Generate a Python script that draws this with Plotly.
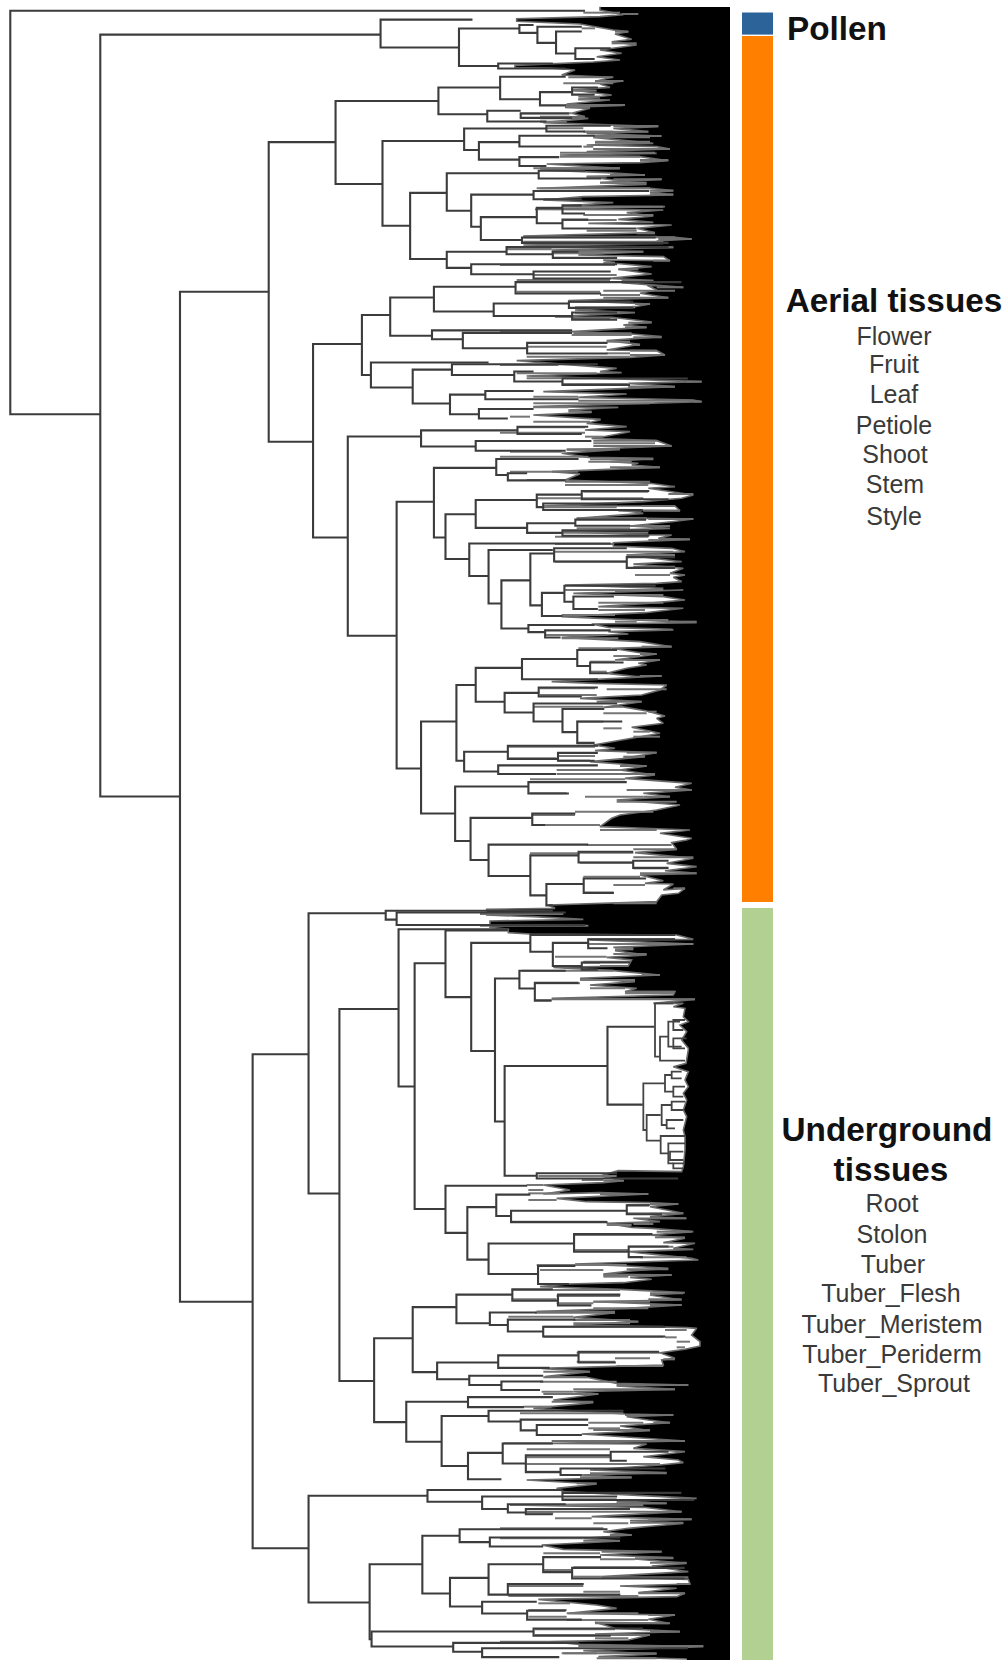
import plotly.graph_objects as go

# Dendrogram nodes: (height, upper leaf pos, lower leaf pos, upper branch end, lower branch end)
root_nodes = [(16,30,1160,910,156),(156,97,2230,592,280),(280,817,3645,418,393)]
pollen_nodes = [(592,55,133,735,714),(714,80,185,808,775),(808,70,92,830,836),(836,75,120,905,865),
    (865,88,150,905,895),(895,135,165,950,925),(775,178,192,860,880)]
aerial_a = [(418,398,1237,522,487),(522,283,515,682,595),(682,245,320,778,758),(778,215,278,880,840),
    (840,258,295,890,880),(890,245,265,930,925),(758,310,340,810,850),(810,318,330,885,890),
    (595,395,632,722,638),(722,360,420,850,745),(850,352,368,950,910),(745,398,447,808,808),
    (808,380,410,925,905),(808,440,465,870,850),(638,540,725,695,695),(695,485,590,838,733),
    (838,478,500,910,935),(733,545,635,830,748),(830,535,558,1010,905),(748,608,672,835,812),
    (835,582,625,875,875),(875,575,598,905,910),(875,615,640,915,990),(812,665,680,1020,1040),
    (695,705,750,788,733),(788,692,712,1040,860),(860,705,722,900,960),(733,740,768,960,830),
    (830,760,780,950,950)]
aerial_b = [(487,963,1505,563,541),(563,882,1050,607,577),(607,833,940,675,672),(675,803,872,802,768),
    (802,790,822,1060,935),(768,850,885,885,890),(885,845,862,985,985),(890,875,895,960,960),
    (672,925,950,890,720),(720,932,975,890,820),(820,960,990,945,945),(577,1015,1085,760,642),
    (642,1035,1130,703,700),(703,1020,1050,930,800),(800,1040,1068,830,875),(875,1060,1078,1070,980),
    (700,1105,1160,755,745),(755,1095,1118,830,900),(745,1145,1172,830,790)]
aerial_c = [(541,1222,1780,655,617),(655,1205,1250,805,740),(805,1195,1215,915,905),(740,1235,1262,920,880),
    (617,1405,2152,675,655),(675,1310,1505,772,693),(772,1285,1330,900,790),(790,1325,1345,820,880),
    (693,1440,1565,740,730),(740,1400,1478,835,820),(835,1385,1420,905,845),(905,1375,1398,1010,1040),
    (845,1410,1428,960,1000),(820,1465,1492,895,875),(895,1455,1472,1005,980),(875,1485,1500,1010,1010),
    (730,1522,1613,950,760),(760,1540,1690,860,780),(780,1625,1760,825,822),(825,1550,1695,862,843),
    (862,1535,1572,975,975),(975,1560,1590,1050,1050),(843,1660,1725,878,875),(878,1640,1685,1020,892),
    (892,1670,1705,955,930),(822,1750,1770,925,848),(848,1765,1785,950,872)]
aerial_d = [(655,2020,2278,710,708),(710,1918,2130,740,722),(740,1870,1965,812,785),(812,1845,1902,898,930),
    (898,1820,1865,960,918),(918,1855,1885,970,945),(785,1940,1995,838,830),(838,1925,1950,930,905),
    (830,1970,2020,960,875),(875,1985,2050,940,898),(898,2020,2080,968,925),(722,2105,2160,790,775),
    (790,2088,2125,930,868),(868,2108,2130,930,925),(775,2143,2167,930,865),(708,2202,2355,822,732),
    (822,2190,2222,975,885),(732,2290,2408,828,760),(828,2278,2310,895,848),(760,2365,2453,915,825),
    (825,2395,2507,900,850),(900,2385,2415,985,985),(985,2410,2430,1040,1040),(850,2475,2535,908,860),
    (908,2460,2500,1005,955)]
under_a = [(393,2952,4335,480,480),(480,2557,3342,600,528),(600,2550,2575,860,617),(617,2555,2590,880,910),
    (528,2825,3867,620,582),(620,2602,3042,790,645),(645,2697,3385,693,693),(693,2605,2792,790,733),
    (733,2640,2943,825,770),(825,2618,2665,1050,860),(860,2640,2705,915,905),(915,2630,2655,1050,945),
    (905,2695,2715,980,930),(770,2740,3140,808,785),(785,2985,3292,945,835),(808,2718,2768,880,832),
    (832,2752,2802,900,858),(945,2875,3093,1018,1000),(835,3285,3300,960,1055)]
under_b = [(693,3320,3452,820,727),(727,3380,3527,772,760),(772,3345,3405,825,795),(795,3390,3422,975,945),
    (975,3375,3400,1010,1030),(760,3482,3567,893,837),(893,3455,3505,1015,978),(978,3490,3520,1040,1000),
    (837,3545,3595,895,885),(582,3747,3982,642,632),(642,3660,3842,710,680),(710,3625,3705,797,762),
    (797,3610,3642,860,868),(868,3625,3655,965,920),(762,3675,3710,835,790),(790,3695,3728,895,845),
    (845,3715,3742,1035,1035),(680,3815,3862,775,730),(775,3795,3830,900,855),(900,3785,3815,1025,958),
    (730,3852,3878,845,780),(780,3868,3892,845,840),(632,3925,4037,728,687),(728,3912,3940,860,815),
    (687,3965,4105,760,728),(760,3950,3980,970,810),(810,3975,4005,915,835),(835,3990,4018,915,905),
    (728,4068,4142,782,780),(782,4042,4098,860,818),(818,4075,4122,950,872),(950,4065,4090,1040,975),
    (872,4112,4130,1035,905)]
under_c = [(480,4188,4487,665,575),(665,4172,4205,875,750),(750,4190,4225,960,790),(790,4212,4235,880,818),
    (818,4225,4240,980,860),(875,4180,4200,1060,1080),(575,4380,4590,657,578),(657,4300,4462,715,700),
    (715,4282,4318,945,762),(762,4305,4330,965,845),(700,4418,4498,760,750),(760,4380,4465,845,790),
    (845,4360,4402,935,890),(890,4390,4420,1065,1065),(790,4435,4465,908,965),(750,4485,4518,835,820),
    (820,4510,4535,880,905),(578,4568,4610,830,705),(830,4560,4580,1000,950),(705,4600,4625,900,750),
    (750,4615,4640,1070,870)]
# Tuber clade, read from a closer view
tuber_fine = [(465,-140,20,520,480),(480,-40,32,505,555),(505,-85,-10,540,545),(520,-90,-60,555,550),
    (520,-35,-5,560,555),(430,100,240,495,440),(495,75,125,515,520),(515,65,85,545,545),(520,110,140,555,550),
    (440,195,272,482,482),(485,165,225,515,500),(515,155,180,555,550),(500,210,235,550,525),
    (482,258,310,555,505),(505,280,340,555,520),(510,305,330,550,550),(520,340,355,555,550)]

# Left edge of the dense leaf block (depth, leaf position), one array per stretch
fringe_a = [(300,20),(300,30),(370,44),(300,50),(50,56),(50,64),(240,72),(340,90),(385,95),(345,102),(395,118),
    (335,125),(410,135),(300,150),(365,160),(290,170),(360,180),(280,186),(45,196),(45,203),(150,204),(225,210),
    (185,225),(335,232),(290,243),(370,243),(300,252),(330,262),(215,270),(335,285),(235,298),(330,300),(200,312),
    (370,316),(195,322),(270,325),(215,340),(255,350),(120,352),(265,355),(130,368),(340,376),(475,380),(340,385),
    (445,395),(260,400),(480,408),(280,412),(460,430),(260,435),(470,440),(510,447),(260,455),(470,460),(180,465),
    (420,470),(505,482),(420,488),(140,492),(360,505),(120,510),(320,518),(435,525),(260,530),(340,540),(485,538),
    (300,548),(440,553),(120,565),(450,565),(520,572),(450,578),(520,585),(250,590),(130,600),(340,608),(190,618),
    (495,620),(105,628)]
fringe_b = [(490,0),(380,8),(460,18),(355,28),(460,37),(265,40),(515,45),(410,55),(465,68),(70,78),(525,82),
    (575,87),(470,93),(490,100),(70,105),(520,112),(155,120),(430,125),(235,135),(490,140),(510,152),(310,150),
    (345,160),(455,170),(355,178),(455,192),(330,205),(460,212),(365,218),(550,232),(440,225),(470,240),(420,250),
    (505,263),(205,272),(450,282),(405,290),(225,300),(405,308),(165,320),(335,322),(455,336),(370,345),(440,352),
    (215,365),(395,372),(485,380),(320,392),(420,403),(320,420),(470,422),(495,435),(390,442),(50,452),(175,462),
    (290,470),(350,475),(300,485),(365,488),(80,498),(605,515),(385,520),(525,530),(130,545),(380,552),(235,562),
    (580,570),(605,575),(450,580),(100,590),(355,592),(205,600),(275,607),(100,615),(300,628)]
fringe_c = [(300,0),(260,10),(380,20),(255,30),(390,35),(310,50),(275,55),(470,62),(515,78),(200,90),(360,88),
    (185,100),(265,112),(460,115),(330,125),(415,130),(395,135),(480,142),(240,150),(155,155),(240,162),(195,180),
    (450,190),(525,200),(445,205),(580,225),(545,235),(430,245),(130,258),(525,258),(540,272),(355,270),(430,280),
    (230,295),(440,295),(580,297),(515,305),(390,318),(510,325),(190,335),(445,345),(515,345),(475,355),(570,358),
    (340,368),(340,378),(515,385),(555,395),(380,405),(545,425),(400,432),(550,445),(510,460),(555,465),(520,472),
    (545,485),(470,490),(195,495),(490,505),(345,515),(550,510),(220,520),(490,530),(555,540),(440,550),(295,560),
    (550,565),(490,572),(435,578),(185,590),(345,598),(505,605),(590,608),(275,612),(325,622),(515,628)]
fringe_d = [(520,0),(325,5),(385,12),(185,22),(420,35),(515,50),(335,55),(420,68),(470,72),(345,90),(480,90),
    (415,100),(440,105),(380,115),(320,130),(410,140),(485,138),(155,155),(285,160),(500,165),(480,180),(425,195),
    (240,205),(425,215),(310,232),(365,230),(440,243),(495,258),(470,265),(490,280),(395,292),(480,310),(410,322),
    (280,345),(345,355),(285,362),(470,368),(370,385),(435,380),(270,395),(440,408),(360,420),(465,435),(375,445),
    (575,460),(525,472),(575,480),(430,490),(510,500),(350,510),(540,525),(470,540),(360,555),(335,565),(300,590),
    (570,600),(480,610),(575,625)]
fringe_e = [(560,0),(515,8),(530,28),(405,38),(580,55),(500,70),(590,80),(495,92),(590,100),(420,105),(490,122),
    (435,130),(520,132),(490,150),(555,145),(535,160),(485,165),(470,185),(145,195),(165,205),(-40,208),(-40,225),
    (100,230),(250,238),(-30,243),(-30,262),(25,268),(25,278),(90,282),(530,285),(580,298),(270,300),(580,312),
    (340,322),(400,325),(345,332),(440,345),(320,352),(395,360),(385,378),(160,382),(340,392),(480,405),(420,408),
    (240,415),(405,425),(270,435),(410,445),(375,455),(525,455),(520,465),(155,475),(585,478),(460,490),(550,490),
    (520,500),(555,505),(550,530),(565,545),(540,555),(560,575),(545,600),(565,625)]
fringe_f = [(565,0),(558,40),(520,50),(565,65),(555,90),(565,110),(550,130),(560,150),(550,180),(560,200),
    (550,240),(555,260),(555,300),(550,350),(545,365),(355,362),(300,378),(370,392),(310,398),(130,405),(210,420),
    (130,432),(300,428),(445,432),(170,445),(260,455),(445,458),(535,462),(450,470),(550,490),(450,500),(560,505),
    (400,505),(480,515),(320,520),(395,532),(455,535),(580,545),(450,555),(555,565),(490,578),(585,580),(520,595),
    (580,598),(385,605),(575,625)]
fringe_g = [(595,0),(425,5),(225,12),(380,18),(505,25),(400,32),(310,42),(515,45),(390,52),(455,58),(370,68),
    (205,72),(120,80),(360,88),(555,98),(450,105),(545,120),(280,125),(545,135),(380,145),(110,155),(345,158),
    (220,172),(415,185),(220,195),(560,203),(590,205),(575,225),(600,245),(600,258),(555,268),(480,278),(525,295),
    (485,300),(490,315),(125,325),(270,335),(135,350),(260,352),(350,370),(565,375),(350,378),(525,388),(220,395),
    (295,402),(160,420),(280,428),(100,445),(375,462),(520,465),(380,470),(445,480),(510,488),(360,498),(450,512),
    (245,522),(555,543),(155,550),(440,552),(400,565),(555,575),(430,590),(535,600)]
fringe_h = [(550,8),(480,15),(270,30),(500,38),(240,45),(395,53),(80,60),(290,72),(170,85),(190,95),(590,115),
    (350,125),(500,130),(30,135),(430,142),(545,155),(275,170),(575,178),(390,182),(550,190),(460,198),(385,205),
    (310,215),(395,225),(250,235),(360,243),(125,255),(190,268),(485,275),(300,285),(520,293),(405,297),(560,310),
    (455,318),(565,335),(305,350),(565,358),(570,372),(360,378),(530,385),(415,398),(555,400),(530,410),(115,418),
    (290,435),(350,445),(205,460),(525,465),(445,478),(505,490),(285,487),(345,505),(540,515),(285,522),(450,525),
    (385,540),(150,545),(240,553),(610,560),(250,572),(470,582),(295,590),(560,597)]
fringe_start = [0, 210, 420, 630, 840, 1050, 1260, 1460]

# Visible leaf bars over the block: (leaf position, start, end)
tips_a = [(38,300,360),(42,365,415),(95,345,385),(130,335,410),(378,340,475),(395,255,445),(408,280,485),(428,285,450),
    (447,280,510),(458,180,465),(480,420,505),(505,120,360),(525,330,435),(538,340,485),(572,450,520),(232,205,340),
    (243,285,370),(290,235,300),(315,195,375),(355,120,210)]
tips_b = [(87,475,575),(82,70,525),(112,20,520),(125,155,430),(152,460,510),(178,355,415),(212,365,460),(232,470,550),
    (242,310,525),(263,310,505),(282,405,450),(325,215,330),(338,385,455),(352,375,440),(370,220,395),(382,400,485),
    (405,395,420),(422,390,470),(435,390,495),(515,560,605),(530,385,525),(572,235,580),(575,580,605)]
tips_c = [(62,280,470),(78,280,515),(88,200,360),(118,270,460),(142,330,480),(155,155,235),(185,195,450),(222,505,580),
    (258,425,525),(272,430,540),(297,445,580),(318,390,510),(358,475,570),(372,165,340),(605,510,590),(600,410,505)]
tips_d = [(50,425,515),(72,420,470),(90,380,480),(138,420,485),(178,320,500),(215,290,425),(245,445,470),(368,380,470),
    (380,370,435),(408,360,440),(432,170,465),(480,380,575),(500,430,510)]
tips_e = [(15,260,515),(28,400,530),(52,400,580),(100,420,590),(222,-60,190),(257,-60,265),(342,340,440),(328,345,400),
    (365,250,390),(378,300,385),(405,425,480),(455,375,525),(478,155,585),(145,520,555)]
tips_f = [(392,310,372),(432,300,445),(462,450,535),(490,450,550),(505,450,558),(522,400,460),(545,470,575),(562,465,555)]
tips_g = [(28,380,505),(45,310,515),(100,450,550),(118,445,545),(135,450,545),(155,110,345),(180,220,390),(185,390,415),
    (298,490,525),(335,130,270),(352,130,260),(375,350,565),(388,220,525),(402,130,295),(425,155,280),(465,375,520),
    (488,460,510),(510,280,450),(543,155,555)]
tips_h = [(40,270,500),(52,240,395),(70,230,290),(130,350,500),(155,80,545),(178,445,575),(188,390,550),(225,330,395),
    (242,250,360),(275,305,485),(295,405,520),(308,450,560),(352,305,565),(372,530,570),(400,415,555),(465,445,525),
    (490,285,510),(515,450,540),(525,285,450),(558,235,610),(580,190,470)]

# Grey leaf bands that slice the white wedges: (leaf position, start, end)
bands_a = [(38,250,300),(85,245,285),(385,140,250),(395,250,340),(412,280,450),(425,285,450),(440,250,280),(447,280,470),
    (470,180,420),(482,420,470),(505,100,360),(530,260,320),(548,300,440),(565,110,450),(583,450,520),(598,130,210),
    (620,190,490),(250,190,340),(272,215,290),(298,235,300),(320,195,270),(340,60,215),(350,120,210),(365,120,200)]
bands_b = [(15,250,460),(30,190,350),(62,260,410),(70,410,465),(80,70,470),(95,70,490),(118,20,155),(130,155,310),
    (158,310,345),(165,0,345),(195,100,350),(210,50,330),(245,50,300),(255,300,420),(275,205,390),(292,225,405),
    (308,225,360),(320,165,215),(365,0,215),(375,215,395),(395,320,390),(410,80,320),(430,320,390),(440,80,390),
    (465,0,175),(490,50,290),(505,80,185),(522,185,385),(530,385,455),(560,100,235),(580,100,450),(592,100,205),
    (605,205,275),(620,30,90)]
bands_c = [(5,100,270),(22,55,255),(38,0,255),(50,255,310),(70,280,465),(95,30,185),(110,0,265),(125,265,395),(155,30,155),
    (180,80,195),(195,195,445),(215,250,445),(235,110,430),(262,130,350),(272,355,425),(295,230,440),(325,230,390),
    (338,190,445),(350,165,445),(360,445,475),(395,165,520),(425,165,380),(405,380,525),(440,400,525),(465,405,510),
    (510,195,490),(525,345,490),(548,295,490),(570,295,435),(585,185,345),(605,345,410)]
bands_d = [(15,135,320),(25,185,355),(55,235,335),(78,340,420),(95,270,345),(125,270,320),(175,120,285),(195,120,290),
    (230,100,310),(250,310,440),(275,230,310),(295,310,365),(305,400,450),(320,400,480),(340,230,280),(350,25,285),
    (385,25,170),(378,175,285),(392,175,270),(420,170,360),(448,90,375),(490,90,200),(500,255,430),(515,350,530),
    (545,225,460),(555,95,225),(585,135,300),(600,300,470)]
bands_e = [(38,240,400),(68,240,400),(85,400,495),(110,250,420),(135,340,435),(158,250,340),(190,340,470),(40,90,240),
    (298,265,525),(312,265,580),(350,165,320),(368,250,300),(392,65,340),(420,240,405),(430,105,240),(445,270,375),
    (460,375,520),(480,105,155)]
bands_f = [(378,115,350),(390,245,310),(405,80,130),(420,85,130),(430,85,180),(450,85,170),(465,380,450),(490,380,450),
    (515,35,320),(525,320,395),(555,225,450),(600,225,385),(590,385,520),(622,420,560)]
bands_g = [(15,110,380),(30,120,310),(50,310,385),(72,120,205),(90,35,360),(118,35,170),(108,170,360),(130,170,280),
    (125,280,450),(145,280,445),(158,105,345),(170,25,220),(190,220,390),(200,130,490),(230,130,490),(210,495,560),
    (232,495,530),(245,530,570),(262,530,555),(278,230,480),(305,230,345),(295,345,450),(318,350,490),(365,120,350),
    (395,125,220),(440,70,155),(460,60,370),(488,265,430),(505,265,360),(525,110,245),(550,10,155),(568,80,330),(592,80,330)]
bands_h = [(12,80,480),(35,80,180),(45,180,240),(118,190,350),(135,30,430),(158,80,160),(175,165,275),(190,280,385),
    (205,0,310),(235,0,250),(280,130,300),(298,300,405),(330,130,215),(322,220,455),(350,220,305),(378,25,250),
    (395,250,360),(408,25,415),(430,115,210),(450,85,200),(470,85,200),(460,200,415),(480,200,445),(508,105,345),
    (525,105,285),(535,285,385),(545,0,150),(580,185,290),(595,290,470)]

strip_top = [12.5, 36, 908]
strip_bottom = [34.6, 902, 1660]
strip_colors = ["#2c6399", "#ff8000", "#b2d092"]

label_text = ["<b>Pollen</b>", "<b>Aerial tissues</b>", "Flower", "Fruit", "Leaf", "Petiole", "Shoot", "Stem", "Style",
              "<b>Underground</b>", "<b>tissues</b>", "Root", "Stolon", "Tuber", "Tuber_Flesh", "Tuber_Meristem",
              "Tuber_Periderm", "Tuber_Sprout"]
label_x = [837, 894, 894, 894, 894, 894, 895, 895, 894, 887, 891, 892, 892, 893, 891, 892, 892, 894]
label_y = [32, 304, 339, 367, 397, 428, 457, 487, 519, 1133, 1173, 1206, 1237, 1267, 1296, 1327, 1357, 1386]
label_size = [33.3, 33.3] + [25] * 7 + [33.3, 33.3] + [25] * 7
label_color = ["#111111", "#111111"] + ["#3a3a3a"] * 7 + ["#111111", "#111111"] + ["#3a3a3a"] * 7

BLOCK_RIGHT = 730
BLOCK_TOP = 7
PAGE_H = 1660

dx = []
dy = []
for group in [root_nodes, pollen_nodes, aerial_a, aerial_b, aerial_c, aerial_d, under_a, under_b, under_c]:
    for h, top, bot, e_top, e_bot in group:
        dx.extend([e_top / 1.5556, h / 1.5556, h / 1.5556, e_bot / 1.5556, None])
        dy.extend([top / 2.8, top / 2.8, bot / 2.8, bot / 2.8, None])

fine_x = []
fine_y = []
for h, top, bot, e_top, e_bot in tuber_fine:
    fine_x.extend([500 + e_top / 3, 500 + h / 3, 500 + h / 3, 500 + e_bot / 3, None])
    fine_y.extend([1050 + top / 3, 1050 + top / 3, 1050 + bot / 3, 1050 + bot / 3, None])

edge_x = []
edge_y = []
for start, part in zip(fringe_start, [fringe_a, fringe_b, fringe_c, fringe_d, fringe_e, fringe_f, fringe_g, fringe_h]):
    for depth, pos in part:
        edge_x.append(500 + depth / 3)
        edge_y.append(start + pos / 3)


def bars(groups):
    xs = []
    ys = []
    for start, part in zip(fringe_start, groups):
        for pos, x0, x1 in part:
            xs.extend([500 + x0 / 3, 500 + x1 / 3, None])
            ys.extend([start + pos / 3, start + pos / 3, None])
    return xs, ys


tip_x, tip_y = bars([tips_a, tips_b, tips_c, tips_d, tips_e, tips_f, tips_g, tips_h])
band_x, band_y = bars([bands_a, bands_b, bands_c, bands_d, bands_e, bands_f, bands_g, bands_h])

fig = go.Figure()
fig.add_trace(go.Bar(x=[757.5] * 3, y=[b - t for t, b in zip(strip_top, strip_bottom)], base=strip_top, width=31,
                     marker=dict(color=strip_colors, line=dict(width=0)), hoverinfo="skip"))
fig.add_trace(go.Scatter(x=edge_x + [edge_x[-1], BLOCK_RIGHT, BLOCK_RIGHT, edge_x[0]],
                         y=edge_y + [PAGE_H, PAGE_H, BLOCK_TOP, BLOCK_TOP],
                         mode="lines", fill="toself", fillcolor="#000000",
                         line=dict(color="#000000", width=0), hoverinfo="skip"))
fig.add_trace(go.Scatter(x=edge_x, y=edge_y, mode="lines", line=dict(color="#6a6a6a", width=1.6), hoverinfo="skip"))
fig.add_trace(go.Scatter(x=band_x, y=band_y, mode="lines", line=dict(color="#767676", width=2.0), hoverinfo="skip"))
fig.add_trace(go.Scatter(x=tip_x, y=tip_y, mode="lines", line=dict(color="#707070", width=2.0), hoverinfo="skip"))
fig.add_trace(go.Scatter(x=dx, y=dy, mode="lines", line=dict(color="#3c3c3c", width=2.1), hoverinfo="skip"))
fig.add_trace(go.Scatter(x=fine_x, y=fine_y, mode="lines", line=dict(color="#444444", width=1.8), hoverinfo="skip"))
fig.add_trace(go.Scatter(x=label_x, y=label_y, text=label_text, mode="text", textposition="middle center",
                         textfont=dict(family="Liberation Sans", size=label_size, color=label_color), hoverinfo="skip"))

fig.update_layout(width=1008, height=1660, autosize=False, margin=dict(l=0, r=0, t=0, b=0), showlegend=False,
                  paper_bgcolor="white", plot_bgcolor="white", barmode="overlay",
                  xaxis=dict(range=[0, 1008], visible=False, fixedrange=True),
                  yaxis=dict(range=[PAGE_H, 0], visible=False, fixedrange=True))
fig.write_html("out.html", config={"displayModeBar": False},
               post_script="document.body.style.margin='0';document.body.style.overflow='hidden';")
